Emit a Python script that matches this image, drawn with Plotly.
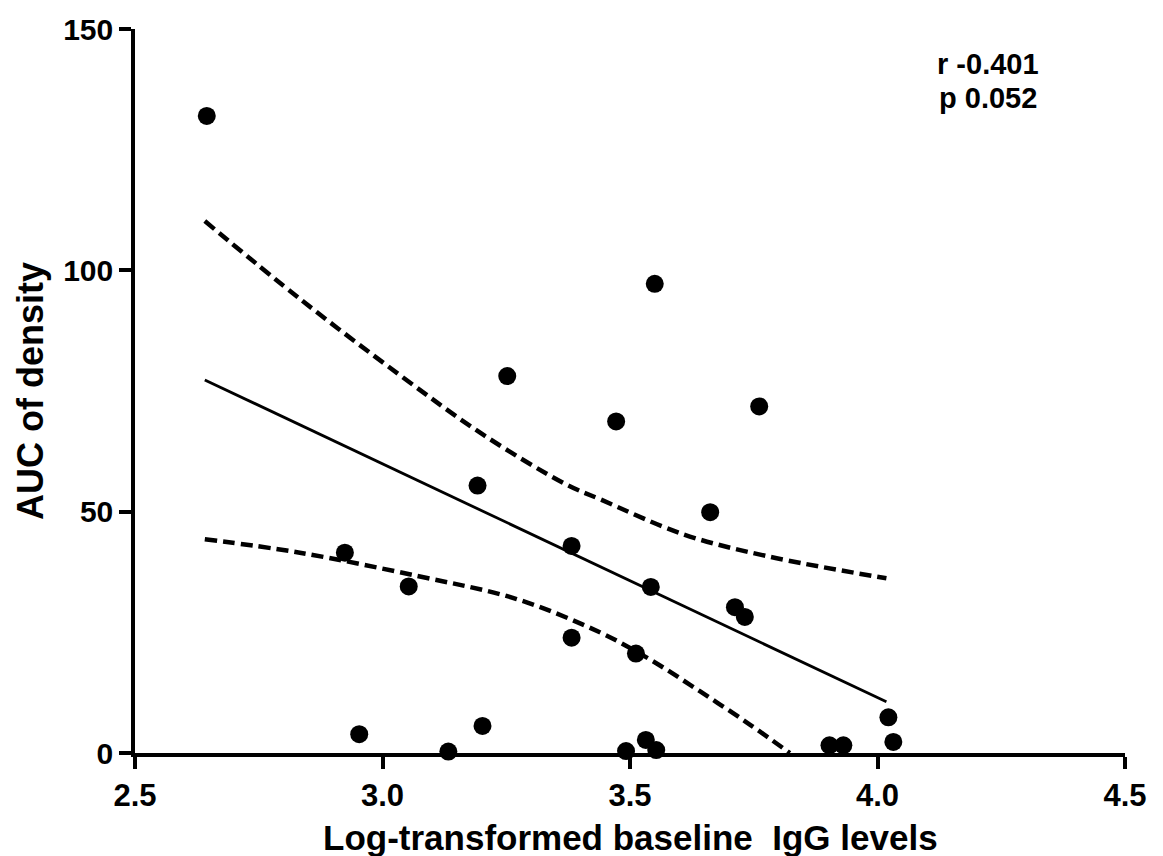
import plotly.graph_objects as go

# Log-transformed baseline IgG levels (x) and AUC of density (y)
igg_log = [2.645, 2.924, 2.953, 3.053, 3.133, 3.192, 3.202, 3.252, 3.382, 3.382,
           3.472, 3.492, 3.512, 3.532, 3.542, 3.550, 3.553, 3.662, 3.712, 3.732,
           3.761, 3.903, 3.931, 4.022, 4.032]
auc_density = [132.0, 41.5, 3.9, 34.5, 0.3, 55.4, 5.6, 78.1, 42.9, 23.9,
               68.7, 0.4, 20.6, 2.7, 34.4, 97.2, 0.6, 49.9, 30.2, 28.2,
               71.8, 1.6, 1.6, 7.4, 2.3]

# Best-fit line and its 95% confidence band
fit_x = [2.641, 4.018]
fit_y = [77.3, 10.6]
band_upper_x = [2.641, 2.833, 3.035, 3.204, 3.372, 3.439, 3.608, 3.776, 4.018]
band_upper_y = [110.2, 94.1, 78.3, 65.9, 55.6, 52.6, 45.3, 40.8, 36.2]
band_lower_x = [2.641, 2.833, 3.069, 3.271, 3.439, 3.540, 3.641, 3.742, 3.823]
band_lower_y = [44.3, 41.5, 36.7, 31.9, 25.0, 19.4, 12.8, 5.9, 0.0]

x_ticks = [2.5, 3.0, 3.5, 4.0, 4.5]
x_tick_text = ["2.5", "3.0", "3.5", "4.0", "4.5"]
y_ticks = [0, 50, 100, 150]
stats_text = ["r -0.401", "p 0.052"]
stats_y = [142.8, 135.8]

FONT = "Liberation Sans, Arial, sans-serif"
DASH = dict(color="black", width=4.5, dash="12px,6px", shape="spline")

fig = go.Figure()
fig.add_trace(go.Scatter(x=band_upper_x, y=band_upper_y, mode="lines",
                         line=DASH, hoverinfo="skip"))
fig.add_trace(go.Scatter(x=band_lower_x, y=band_lower_y, mode="lines",
                         line=DASH, hoverinfo="skip"))
fig.add_trace(go.Scatter(x=fit_x, y=fit_y, mode="lines",
                         line=dict(color="black", width=2.8)))
fig.add_trace(go.Scatter(x=igg_log, y=auc_density, mode="markers",
                         marker=dict(color="black", size=18),
                         cliponaxis=False))

# Correlation statistics, top right
for line, ypos in zip(stats_text, stats_y):
    fig.add_annotation(x=4.223, y=ypos, xref="x", yref="y",
                       text="<b>" + line + "</b>", showarrow=False,
                       xanchor="center", yanchor="middle",
                       font=dict(family=FONT, size=29, color="black"))

# Axis titles
fig.add_annotation(x=0.5, y=-0.117, xref="paper", yref="paper",
                   text="<b>Log-transformed baseline  IgG levels</b>",
                   showarrow=False, xanchor="center", yanchor="middle",
                   font=dict(family=FONT, size=35, color="black"))
fig.add_annotation(x=-0.106, y=0.5, xref="paper", yref="paper",
                   text="<b>AUC of density</b>", textangle=-90,
                   showarrow=False, xanchor="center", yanchor="middle",
                   font=dict(family=FONT, size=36, color="black"))

axis_common = dict(showline=True, linecolor="black", linewidth=3.5,
                   ticks="outside", ticklen=12, tickwidth=3.5, tickcolor="black",
                   showgrid=False, zeroline=False)

fig.update_xaxes(range=[2.5, 4.5], tickvals=x_ticks, ticktext=x_tick_text,
                 tickfont=dict(family=FONT, size=31, color="black", weight="bold"),
                 **axis_common)
fig.update_yaxes(range=[0, 150], tickvals=y_ticks,
                 tickfont=dict(family=FONT, size=30, color="black", weight="bold"),
                 **axis_common)
fig.update_layout(width=1163, height=856, showlegend=False,
                  plot_bgcolor="white", paper_bgcolor="white",
                  margin=dict(l=135, r=38, t=27, b=103),
                  font=dict(family=FONT, color="black"))

fig.write_html("out.html")
